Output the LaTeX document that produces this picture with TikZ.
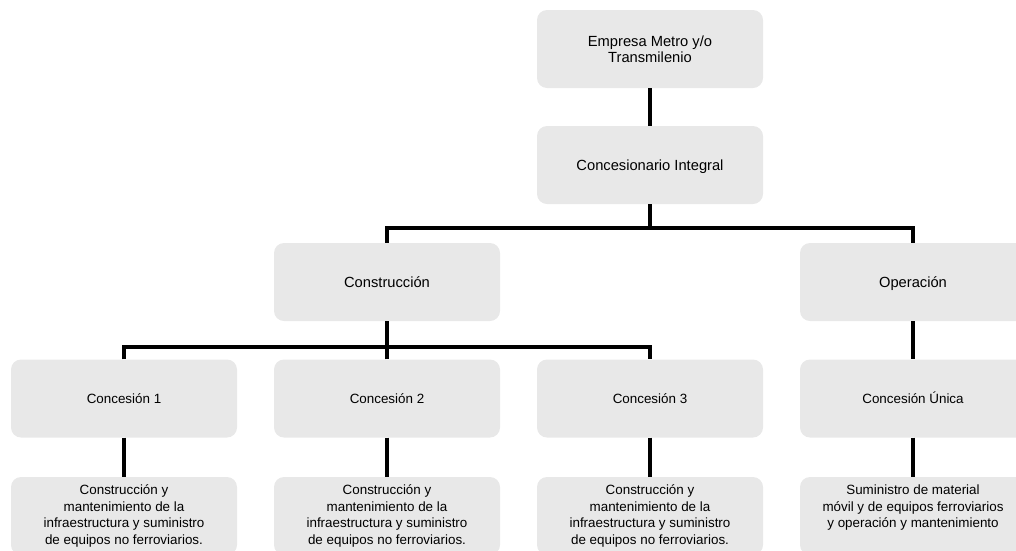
\documentclass[tikz,border=0pt]{standalone}
\usepackage{fontspec}
\setmainfont{Liberation Sans}
\definecolor{boxgray}{RGB}{232,232,232}
\begin{document}
\begin{tikzpicture}[x=1pt,y=-1pt,
  orgbox/.style={rectangle,rounded corners=10pt,fill=boxgray,draw=none,
    minimum width=226pt,minimum height=78pt,inner sep=0pt,align=center},
  bigline/.style={text height=10.5pt,text depth=0pt},
  smallline/.style={text height=9.6pt,text depth=0pt},
  bigtxt/.style={font=\fontsize{14.7}{16.5}\selectfont},
  smalltxt/.style={font=\fontsize{13.4}{16.4}\selectfont},
  link/.style={line width=3.6pt,black,line join=miter}]
\useasboundingbox (0,0) rectangle (1016,550);
\clip (0,0) rectangle (1016,550);
\node[orgbox,bigtxt] (emp) at (650,49) {Empresa Metro y/o\\Transmilenio};
\node[orgbox,bigtxt,bigline] (ci) at (650,165) {Concesionario Integral};
\node[orgbox,bigtxt,bigline] (cons) at (387,282) {Construcción};
\node[orgbox,bigtxt,bigline] (oper) at (913,282) {Operación};
\node[orgbox,smalltxt,smallline] (c1) at (124,398.5) {Concesión 1};
\node[orgbox,smalltxt,smallline] (c2) at (387,398.5) {Concesión 2};
\node[orgbox,smalltxt,smallline] (c3) at (650,398.5) {Concesión 3};
\node[orgbox,smalltxt,smallline] (cu) at (913,398.5) {Concesión Única};
\node[orgbox,smalltxt] (d1) at (124,516) {Construcción y\\mantenimiento de la\\infraestructura y suministro\\de equipos no ferroviarios.};
\node[orgbox,smalltxt] (d2) at (387,516) {Construcción y\\mantenimiento de la\\infraestructura y suministro\\de equipos no ferroviarios.};
\node[orgbox,smalltxt] (d3) at (650,516) {Construcción y\\mantenimiento de la\\infraestructura y suministro\\de equipos no ferroviarios.};
\node[orgbox,smalltxt] (du) at (913,516) {\strut Suministro de material\\móvil y de equipos ferroviarios\\y operación y mantenimiento\\\strut};
\coordinate (busA) at (650,228);
\coordinate (busB) at (387,347);
\draw[link] (emp.south) -- (ci.north);
\draw[link] (ci.south) -- (busA);
\draw[link] (cons.north) |- (busA) -| (oper.north);
\draw[link] (cons.south) -- (busB);
\draw[link] (c1.north) |- (busB) -| (c3.north);
\draw[link] (c2.north) -- (busB);
\draw[link] (oper.south) -- (cu.north);
\draw[link] (c1.south) -- (d1.north);
\draw[link] (c2.south) -- (d2.north);
\draw[link] (c3.south) -- (d3.north);
\draw[link] (cu.south) -- (du.north);
\end{tikzpicture}
\end{document}
